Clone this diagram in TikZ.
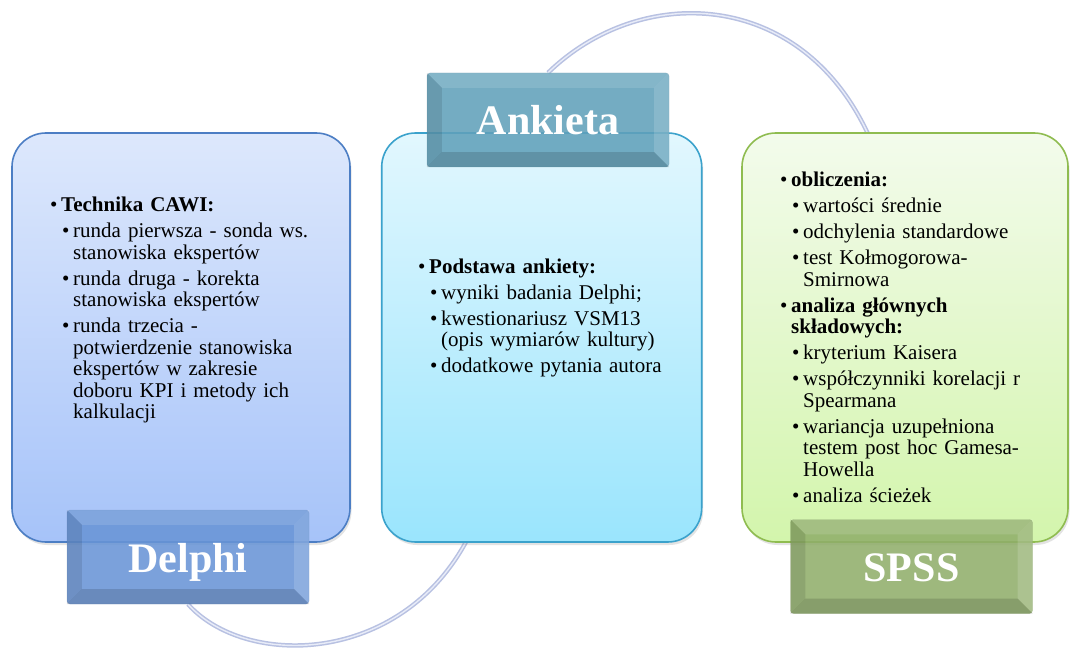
\documentclass[tikz,border=0pt]{standalone}
\usepackage{fontspec}
\setmainfont{Liberation Serif}
\usetikzlibrary{calc,shadows,backgrounds}

\definecolor{delphiline}{RGB}{76,126,196}
\definecolor{delphitop}{RGB}{221,232,252}
\definecolor{delphibot}{RGB}{166,195,249}
\definecolor{delphitab}{RGB}{104,148,214}
\definecolor{ankline}{RGB}{59,162,204}
\definecolor{anktop}{RGB}{226,247,254}
\definecolor{ankbot}{RGB}{154,229,253}
\definecolor{anktab}{RGB}{96,160,186}
\definecolor{spssline}{RGB}{143,188,80}
\definecolor{spsstop}{RGB}{243,251,236}
\definecolor{spssbot}{RGB}{211,245,172}
\definecolor{spsstab}{RGB}{144,174,106}
\definecolor{cycleblue}{RGB}{184,193,226}
\definecolor{cyclehi}{RGB}{232,236,248}

% bullets: level one (bold) and level two
\newcommand{\hd}[1]{\hangindent=11pt\hangafter=1\makebox[11pt][l]{\textbullet}\textbf{#1}}
\newcommand{\hdn}[1]{\par\vspace{4.5pt}\hd{#1}}
\newcommand{\sub}[1]{\par\vspace{4.5pt}\hangindent=23pt\hangafter=1\hspace*{12pt}\makebox[11pt][l]{\textbullet}#1}

% bevel bands on a tab
\newcommand{\bevel}[1]{%
  \fill[white,fill opacity=0.12] (#1.north west) -- (#1.north east) -- ($(#1.north east)+(-15,-15)$) -- ($(#1.north west)+(15,-15)$) -- cycle;
  \fill[white,fill opacity=0.15] (#1.north east) -- (#1.south east) -- ($(#1.south east)+(-15,15)$) -- ($(#1.north east)+(-15,-15)$) -- cycle;
  \fill[black,fill opacity=0.10] (#1.north west) -- ($(#1.north west)+(15,-15)$) -- ($(#1.south west)+(15,15)$) -- (#1.south west) -- cycle;
  \fill[black,fill opacity=0.14] (#1.south west) -- ($(#1.south west)+(15,15)$) -- ($(#1.south east)+(-15,15)$) -- (#1.south east) -- cycle;
}

\tikzset{
  card/.style={rounded corners=34pt, line width=1.6pt, minimum height=409,
    drop shadow={opacity=0.22,shadow xshift=1.5pt,shadow yshift=-3pt}},
  tab/.style={fill=#1, fill opacity=0.87, text opacity=1, draw=#1!80!black, draw opacity=0.35,
    rounded corners=3pt, minimum width=242, minimum height=94, inner sep=0pt,
    text=white, font=\fontsize{42}{44}\selectfont\bfseries, text height=30pt, text depth=0pt},
  txt/.style={anchor=base west, inner sep=0pt, align=left, text width=300,
    font=\fontsize{21}{21.5}\selectfont},
  cycleline/.style={line width=1.5pt, draw=cycleblue, double=cyclehi, double distance=1.4pt}
}

\begin{document}
\begin{tikzpicture}[x=1pt,y=1pt]
  \useasboundingbox (0,0) rectangle (1070,648);

  % the three cards
  \node[card, draw=delphiline, top color=delphitop, bottom color=delphibot, minimum width=338] (delphibox) at (181,310.5) {};
  \node[card, draw=ankline, top color=anktop, bottom color=ankbot, minimum width=320] (ankbox) at (541.7,310.5) {};
  \node[card, draw=spssline, top color=spsstop, bottom color=spssbot, minimum width=326] (spssbox) at (905,310.5) {};

  % tabs
  \node[tab=delphitab] (delphi) at (188,91) {Delphi};
  \node[tab=anktab] (ankieta) at (548,528) {Ankieta};
  \node[tab=spsstab] (spss) at (911.5,81.5) {SPSS};
  \foreach \t in {delphi,ankieta,spss} {\bevel{\t}}

  % ring behind
  \coordinate (ankfoot) at (467,108);
  \coordinate (spsshead) at (868,514);
  \begin{scope}[on background layer]
    \fill[white] (0,0) rectangle (1070,648);
    \draw[cycleline] (delphi.south) .. controls (245,-20) and (400,-18) .. (ankfoot);
    \draw[cycleline] (ankieta.north) .. controls (640,665) and (800,660) .. (spsshead);
  \end{scope}

  % texts
  \node[txt] (delphitxt) at (50,436.3) {%
    \hd{Technika CAWI:}
    \sub{runda pierwsza - sonda ws.\newline stanowiska ekspertów}
    \sub{runda druga - korekta\newline stanowiska ekspertów}
    \sub{runda trzecia -\newline potwierdzenie stanowiska\newline ekspertów w zakresie\newline doboru KPI i metody ich\newline kalkulacji}\par};
  \node[txt] (anktxt) at (418,374.7) {%
    \hd{Podstawa ankiety:}
    \sub{wyniki badania Delphi;}
    \sub{kwestionariusz VSM13\newline (opis wymiarów kultury)}
    \sub{dodatkowe pytania autora}\par};
  \node[txt, text width=285] (spsstxt) at (780,461.3) {%
    \hd{obliczenia:}
    \sub{wartości średnie}
    \sub{odchylenia standardowe}
    \sub{test Kołmogorowa-\newline Smirnowa}
    \hdn{analiza głównych\newline składowych:}
    \sub{kryterium Kaisera}
    \sub{współczynniki korelacji r\newline Spearmana}
    \sub{wariancja uzupełniona\newline testem post hoc Gamesa-\newline Howella}
    \sub{analiza ścieżek}\par};
\end{tikzpicture}
\end{document}
